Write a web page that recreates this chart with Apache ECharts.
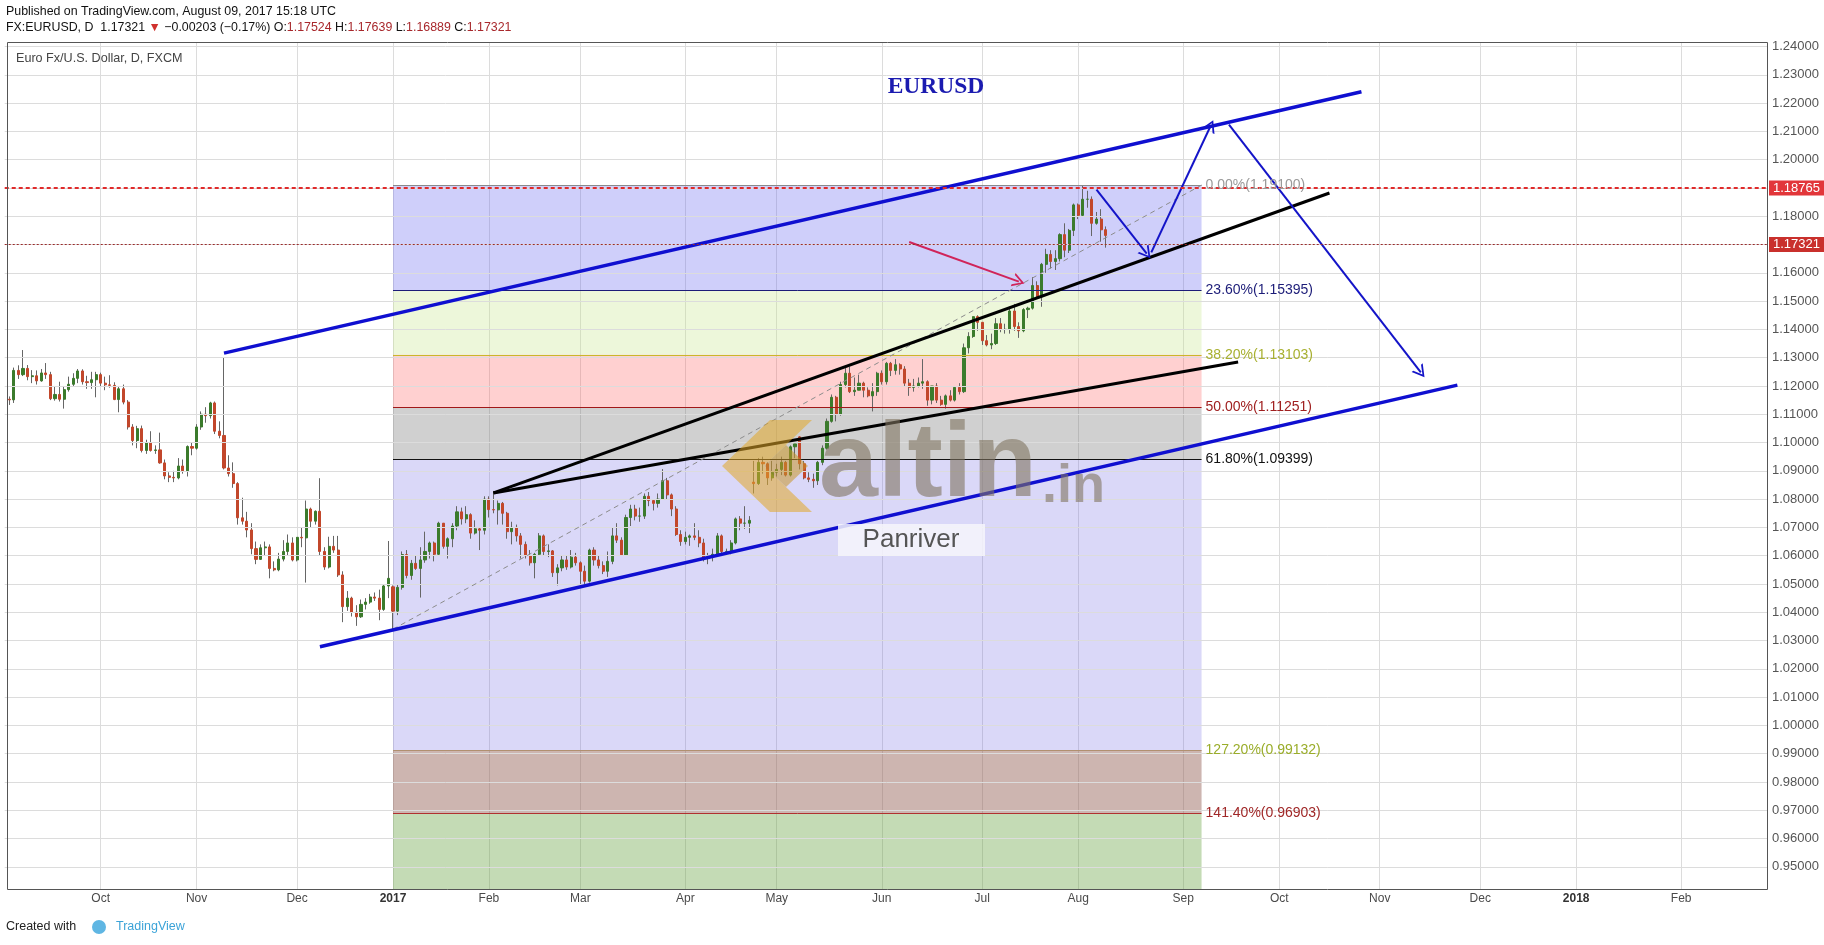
<!DOCTYPE html>
<html><head><meta charset="utf-8">
<script src="https://cdn.jsdelivr.net/npm/echarts/dist/echarts.min.js"></script>
<style>html,body{margin:0;padding:0;background:#fff}#c{width:1824px;height:945px}</style>
</head><body><div id="c"></div>
<script>
// ---------- DATA ----------
const axisStart = '2016-09-02';
const axisEnd = '2018-02-28';
const candleStart = '2016-09-05';
const skipDays = ['2016-12-26','2017-01-02'];   // no FXCM daily bar
// daily candles [open, high, low, close], trading days from candleStart
const ohlc = [
[1.1153,1.1163,1.1133,1.1151],[1.1151,1.1265,1.1140,1.1255],[1.1255,1.1273,1.1225,1.1240],[1.1240,1.1327,1.1235,1.1262],[1.1262,1.1274,1.1220,1.1233],
[1.1233,1.1256,1.1210,1.1236],[1.1236,1.1255,1.1205,1.1218],[1.1218,1.1260,1.1215,1.1246],[1.1246,1.1281,1.1225,1.1240],[1.1240,1.1250,1.1150,1.1155],
[1.1155,1.1200,1.1148,1.1170],[1.1170,1.1215,1.1145,1.1153],[1.1153,1.1200,1.1120,1.1187],[1.1187,1.1233,1.1180,1.1206],[1.1206,1.1245,1.1200,1.1227],
[1.1227,1.1260,1.1210,1.1253],[1.1253,1.1259,1.1205,1.1215],[1.1215,1.1236,1.1190,1.1212],[1.1212,1.1250,1.1190,1.1222],[1.1222,1.1250,1.1160,1.1240],
[1.1240,1.1247,1.1198,1.1210],[1.1210,1.1233,1.1185,1.1204],[1.1204,1.1238,1.1194,1.1202],[1.1202,1.1213,1.1150,1.1152],[1.1152,1.1200,1.1107,1.1190],
[1.1190,1.1205,1.1135,1.1143],[1.1143,1.1150,1.1046,1.1055],[1.1055,1.1065,1.0990,1.1007],[1.1007,1.1059,1.0980,1.1049],[1.1049,1.1060,1.0965,1.0972],
[1.0972,1.1010,1.0960,1.1000],[1.1000,1.1040,1.0968,1.0972],[1.0972,1.0990,1.0960,1.0974],[1.0974,1.1035,1.0925,1.0928],[1.0928,1.0940,1.0870,1.0882],
[1.0882,1.0895,1.0860,1.0877],[1.0877,1.0900,1.0860,1.0875],[1.0875,1.0945,1.0870,1.0917],[1.0917,1.0940,1.0890,1.0900],[1.0900,1.0990,1.0880,1.0986],
[1.0986,1.1000,1.0955,1.0980],[1.0980,1.1065,1.0975,1.1055],[1.1055,1.1110,1.1045,1.1100],[1.1100,1.1125,1.1070,1.1095],[1.1095,1.1144,1.1085,1.1140],
[1.1140,1.1145,1.1030,1.1040],[1.1040,1.1075,1.1015,1.1025],[1.1025,1.1300,1.0905,1.0910],[1.0910,1.0955,1.0880,1.0890],[1.0890,1.0930,1.0840,1.0855],
[1.0855,1.0860,1.0710,1.0734],[1.0734,1.0805,1.0710,1.0722],[1.0722,1.0755,1.0665,1.0691],[1.0691,1.0715,1.0605,1.0625],[1.0625,1.0650,1.0570,1.0587],
[1.0587,1.0640,1.0585,1.0628],[1.0628,1.0650,1.0600,1.0631],[1.0631,1.0640,1.0520,1.0555],[1.0555,1.0580,1.0545,1.0550],[1.0550,1.0610,1.0545,1.0588],
[1.0588,1.0655,1.0580,1.0615],[1.0615,1.0675,1.0600,1.0645],[1.0645,1.0665,1.0580,1.0585],[1.0585,1.0665,1.0580,1.0665],[1.0665,1.0700,1.0630,1.0663],
[1.0663,1.0795,1.0505,1.0765],[1.0765,1.0770,1.0700,1.0722],[1.0722,1.0760,1.0710,1.0757],[1.0757,1.0874,1.0600,1.0615],[1.0615,1.0630,1.0550,1.0560],
[1.0560,1.0667,1.0555,1.0633],[1.0633,1.0670,1.0610,1.0620],[1.0620,1.0670,1.0525,1.0532],[1.0532,1.0545,1.0365,1.0420],[1.0420,1.0475,1.0405,1.0450],
[1.0450,1.0455,1.0385,1.0400],[1.0400,1.0425,1.0352,1.0384],[1.0384,1.0445,1.0380,1.0428],[1.0428,1.0450,1.0410,1.0436],[1.0436,1.0465,1.0430,1.0454],
[1.0454,1.0470,1.0440,1.0450],[1.0450,1.0480,1.0372,1.0410],[1.0410,1.0500,1.0405,1.0493],[1.0493,1.0652,1.0450,1.0520],
[1.0490,1.0495,1.0340,1.0404],[1.0404,1.0497,1.0390,1.0488],[1.0488,1.0615,1.0480,1.0604],[1.0604,1.0620,1.0520,1.0530],
[1.0530,1.0585,1.0515,1.0573],[1.0573,1.0600,1.0550,1.0555],[1.0555,1.0630,1.0452,1.0585],[1.0585,1.0685,1.0575,1.0615],[1.0615,1.0650,1.0590,1.0645],
[1.0645,1.0650,1.0580,1.0605],[1.0605,1.0720,1.0600,1.0715],[1.0715,1.0715,1.0625,1.0633],[1.0633,1.0665,1.0590,1.0660],[1.0660,1.0715,1.0630,1.0705],
[1.0705,1.0775,1.0690,1.0755],[1.0755,1.0770,1.0710,1.0730],[1.0730,1.0775,1.0715,1.0745],[1.0745,1.0750,1.0660,1.0680],[1.0680,1.0725,1.0675,1.0695],
[1.0695,1.0700,1.0620,1.0690],[1.0690,1.0810,1.0675,1.0800],[1.0800,1.0810,1.0735,1.0763],[1.0763,1.0829,1.0750,1.0762],[1.0762,1.0795,1.0710,1.0785],
[1.0785,1.0790,1.0710,1.0750],[1.0750,1.0755,1.0660,1.0685],[1.0685,1.0720,1.0640,1.0700],[1.0700,1.0710,1.0650,1.0670],[1.0670,1.0680,1.0590,1.0640],
[1.0640,1.0650,1.0590,1.0600],[1.0600,1.0620,1.0565,1.0575],[1.0575,1.0610,1.0520,1.0605],[1.0605,1.0680,1.0600,1.0670],[1.0670,1.0675,1.0600,1.0615],
[1.0615,1.0640,1.0595,1.0617],[1.0617,1.0620,1.0525,1.0540],[1.0540,1.0570,1.0495,1.0557],[1.0557,1.0600,1.0545,1.0585],[1.0585,1.0600,1.0550,1.0560],
[1.0560,1.0620,1.0555,1.0595],[1.0595,1.0610,1.0565,1.0575],[1.0575,1.0580,1.0495,1.0545],[1.0545,1.0565,1.0495,1.0510],[1.0510,1.0625,1.0505,1.0620],
[1.0620,1.0630,1.0565,1.0585],[1.0585,1.0600,1.0555,1.0565],[1.0565,1.0580,1.0535,1.0545],[1.0545,1.0615,1.0525,1.0580],[1.0580,1.0700,1.0570,1.0670],
[1.0670,1.0715,1.0645,1.0655],[1.0655,1.0665,1.0600,1.0603],[1.0603,1.0745,1.0600,1.0735],[1.0735,1.0780,1.0705,1.0765],[1.0765,1.0780,1.0725,1.0740],
[1.0740,1.0770,1.0720,1.0740],[1.0740,1.0820,1.0730,1.0810],[1.0810,1.0825,1.0775,1.0795],[1.0795,1.0800,1.0760,1.0785],[1.0785,1.0820,1.0770,1.0800],
[1.0800,1.0906,1.0800,1.0865],[1.0865,1.0875,1.0800,1.0815],[1.0815,1.0820,1.0740,1.0765],[1.0765,1.0775,1.0670,1.0675],[1.0675,1.0690,1.0635,1.0650],
[1.0650,1.0685,1.0640,1.0665],[1.0665,1.0675,1.0635,1.0670],[1.0670,1.0715,1.0655,1.0665],[1.0665,1.0690,1.0630,1.0645],[1.0645,1.0660,1.0580,1.0590],
[1.0590,1.0610,1.0570,1.0600],[1.0600,1.0625,1.0580,1.0605],[1.0605,1.0680,1.0600,1.0670],[1.0670,1.0675,1.0605,1.0615],[1.0615,1.0625,1.0605,1.0615],
[1.0615,1.0655,1.0605,1.0645],[1.0645,1.0735,1.0640,1.0730],[1.0730,1.0740,1.0690,1.0715],[1.0715,1.0775,1.0695,1.0715],[1.0715,1.0740,1.0680,1.0725],
[1.0860,1.0935,1.0820,1.0855],[1.0855,1.0945,1.0850,1.0930],[1.0930,1.0950,1.0890,1.0925],[1.0925,1.0930,1.0850,1.0875],[1.0875,1.0935,1.0865,1.0895],
[1.0895,1.0925,1.0880,1.0905],[1.0905,1.0950,1.0885,1.0930],[1.0930,1.0935,1.0880,1.0885],[1.0885,1.0990,1.0880,1.0985],[1.0985,1.0995,1.0945,1.0995],
[1.1020,1.1023,1.0905,1.0925],[1.0925,1.0935,1.0870,1.0875],[1.0875,1.0895,1.0860,1.0870],[1.0870,1.0890,1.0840,1.0865],[1.0865,1.0935,1.0850,1.0930],
[1.0930,1.0990,1.0920,1.0980],[1.0980,1.1085,1.0975,1.1075],[1.1075,1.1170,1.1070,1.1160],[1.1160,1.1165,1.1075,1.1100],[1.1100,1.1215,1.1095,1.1205],
[1.1205,1.1265,1.1195,1.1245],[1.1245,1.1268,1.1175,1.1180],[1.1180,1.1230,1.1165,1.1185],[1.1185,1.1240,1.1185,1.1210],[1.1210,1.1215,1.1160,1.1185],
[1.1185,1.1195,1.1160,1.1165],[1.1165,1.1210,1.1110,1.1180],[1.1180,1.1250,1.1165,1.1245],[1.1245,1.1255,1.1205,1.1215],[1.1215,1.1285,1.1205,1.1280],
[1.1280,1.1285,1.1235,1.1255],[1.1255,1.1295,1.1240,1.1275],[1.1275,1.1280,1.1240,1.1260],[1.1260,1.1270,1.1200,1.1210],[1.1210,1.1225,1.1165,1.1195],
[1.1195,1.1225,1.1180,1.1200],[1.1200,1.1230,1.1195,1.1210],[1.1210,1.1295,1.1190,1.1215],[1.1215,1.1220,1.1130,1.1150],[1.1150,1.1200,1.1135,1.1200],
[1.1200,1.1210,1.1140,1.1150],[1.1150,1.1165,1.1130,1.1135],[1.1135,1.1170,1.1120,1.1165],[1.1165,1.1185,1.1145,1.1150],[1.1150,1.1200,1.1145,1.1195],
[1.1195,1.1210,1.1170,1.1180],[1.1180,1.1350,1.1175,1.1335],[1.1335,1.1390,1.1315,1.1375],[1.1375,1.1445,1.1370,1.1445],[1.1445,1.1450,1.1395,1.1425],
[1.1425,1.1425,1.1345,1.1360],[1.1360,1.1380,1.1340,1.1345],[1.1345,1.1385,1.1330,1.1350],[1.1350,1.1440,1.1345,1.1420],[1.1420,1.1440,1.1390,1.1400],
[1.1400,1.1420,1.1385,1.1400],[1.1400,1.1480,1.1385,1.1465],[1.1465,1.1490,1.1395,1.1410],[1.1410,1.1425,1.1370,1.1395],[1.1395,1.1475,1.1390,1.1470],
[1.1470,1.1480,1.1440,1.1475],[1.1475,1.1585,1.1470,1.1555],[1.1555,1.1570,1.1510,1.1515],[1.1515,1.1635,1.1480,1.1630],[1.1630,1.1685,1.1600,1.1665],
[1.1665,1.1680,1.1615,1.1640],[1.1640,1.1680,1.1610,1.1650],[1.1650,1.1740,1.1640,1.1735],[1.1735,1.1775,1.1655,1.1680],[1.1680,1.1755,1.1670,1.1750],
[1.1750,1.1845,1.1730,1.1840],[1.1840,1.1845,1.1790,1.1803],[1.1803,1.1910,1.1800,1.1860],[1.1860,1.1890,1.1830,1.1860],[1.1860,1.1870,1.1730,1.1775],
[1.1775,1.1815,1.1770,1.1790],[1.1790,1.1825,1.1710,1.1752],[1.17524,1.17639,1.16889,1.17321]
];
const priceTicks = [0.95,0.96,0.97,0.98,0.99,1.00,1.01,1.02,1.03,1.04,1.05,1.06,1.07,1.08,1.09,1.10,1.11,1.12,1.13,1.14,1.15,1.16,1.17,1.18,1.19,1.20,1.21,1.22,1.23,1.24];
const monthNames = ['Jan','Feb','Mar','Apr','May','Jun','Jul','Aug','Sep','Oct','Nov','Dec'];
// Fibonacci retracement
const fibStart = '2017-01-03', fibEnd = '2017-09-07';
const fibAnchorLow = 1.03402;
const fibLevels = ['0.00%','23.60%','38.20%','50.00%','61.80%','127.20%','141.40%'];
const fibPrices = [1.19100,1.15395,1.13103,1.11251,1.09399,0.99132,0.96903];
const fibBottom = 0.93700;
// horizontal lines
const resistance = 1.18765;
const lastPrice = 1.17321;
// drawings: [[date, price],[date, price]]
const blueChannel = [[['2016-11-09',1.1316],['2017-10-26',1.2240]], [['2016-12-08',1.0278],['2017-11-24',1.1203]]];
const blackLines = [[['2017-02-02',1.0822],['2017-10-17',1.1882]], [['2017-02-02',1.0822],['2017-09-19',1.1285]]];
const blueArrows = [[['2017-08-07',1.1894],['2017-08-22',1.1668]], [['2017-08-23',1.1672],['2017-09-11',1.2120]], [['2017-09-15',1.2124],['2017-11-14',1.1248]]];
const redArrow = [[['2017-06-09',1.1709],['2017-07-13',1.1569]]];

// ---------- BUILD ----------
function ymd(d){return d.toISOString().slice(0,10);}
function tradingDays(from, count, until){
  const out=[]; const d=new Date(from+'T00:00:00Z');
  while(count!=null ? out.length<count : ymd(d)<=until){
    const w=d.getUTCDay(); if(w!==0&&w!==6&&skipDays.indexOf(ymd(d))<0) out.push(ymd(d));
    d.setUTCDate(d.getUTCDate()+1);
  }
  return out;
}
const cats = tradingDays(axisStart, null, axisEnd);
const candleDates = tradingDays(candleStart, ohlc.length, null);
const byDate = {}; candleDates.forEach((d,i)=>{byDate[d]=ohlc[i];});
const wickData = cats.map(d=>byDate[d]?[byDate[d][0],byDate[d][3],byDate[d][2],byDate[d][1]]:'-');
const bodyData = cats.map(d=>{const r=byDate[d]; if(!r) return '-'; return [r[0],r[3],Math.min(r[0],r[3]),Math.max(r[0],r[3])];});
const idx = d => cats.indexOf(d);
const monthStart = new Set();
cats.forEach((d,i)=>{ if(i>0 && d.slice(5,7)!==cats[i-1].slice(5,7)) monthStart.add(i); });
const seg = (pts) => [{coord:[idx(pts[0][0]),pts[0][1]]}, {coord:[idx(pts[1][0]),pts[1][1]]}];

const Y_MIN = 0.94183, Y_MAX = 1.24159;
const arrowPath = 'path://M10,0 L20,16 L17,16 L10,4.5 L3,16 L0,16 Z';
const FONT = 'Liberation Sans, Arial, sans-serif';

const fibZoneColors = ['rgba(110,110,240,0.33)','rgba(200,230,140,0.32)','rgba(255,100,100,0.3)','rgba(120,120,120,0.35)','rgba(120,110,230,0.27)','rgba(145,90,80,0.45)','rgba(100,160,60,0.38)'];
const fibLineColors = ['#8a8a8a','#1c1c78','#c9b82a','#a01818','#111111','#b09070','#b03030'];
const fibLabelColors = ['#9a9a9a','#1c1c78','#a8b030','#a02020','#111111','#9aad2a','#a02828'];
const fibLower = fibPrices.slice(1).concat([fibBottom]);
const fibAreas = fibPrices.map((p,i)=>[{coord:[idx(fibStart),p], itemStyle:{color:fibZoneColors[i]}},{coord:[idx(fibEnd),fibLower[i]]}]);
const fibLines = fibPrices.map((p,i)=>[{coord:[idx(fibStart),p], lineStyle:{color:fibLineColors[i],width:1,type:'solid'},
   label:{show:true,position:'end',distance:4,color:fibLabelColors[i],fontSize:14,fontFamily:FONT,formatter:fibLevels[i]+'('+p.toFixed(5)+')'}},{coord:[idx(fibEnd),p]}]);
fibLines.push([{coord:[idx(fibStart),fibAnchorLow], lineStyle:{color:'#8c8c8c',width:1,type:[5,4]}, label:{show:false}},{coord:[idx(fibEnd),fibPrices[0]]}]);

const chart = echarts.init(document.getElementById('c'), null, {renderer:'canvas'});
const option = {
  backgroundColor:'#ffffff',
  animation:false,
  grid:{left:4.73, right:56, top:42, bottom:55, containLabel:false},
  xAxis:{type:'category', data:cats, boundaryGap:false,
    axisLine:{show:false}, axisTick:{show:false},
    axisLabel:{interval:(i)=>monthStart.has(i), margin:3, color:'#4a4a4a', fontSize:12, fontFamily:FONT,
      formatter:(v)=>{const m=+v.slice(5,7)-1; return m===0?'{b|'+v.slice(0,4)+'}':monthNames[m];},
      rich:{b:{fontWeight:'bold',color:'#333',fontSize:12,fontFamily:FONT}}},
    splitLine:{show:true, interval:(i)=>monthStart.has(i), lineStyle:{color:'#dcdcdc',width:1}}
  },
  yAxis:{type:'value', min:Y_MIN, max:Y_MAX, show:false, scale:true},
  series:[
    {name:'grid', type:'line', data:[], z:1, silent:true,
      markLine:{silent:true, symbol:['none','none'], animation:false,
        lineStyle:{color:'#dcdcdc',width:1,type:'solid'},
        label:{show:true,position:'end',distance:4,color:'#555',fontSize:13,fontFamily:FONT,formatter:p=>p.value.toFixed(5)},
        data:priceTicks.map(v=>({yAxis:v}))}},
    {name:'fib', type:'line', data:[], z:2, silent:true,
      markArea:{silent:true, data:fibAreas},
      markLine:{silent:true, symbol:['none','none'], data:fibLines}},
    {name:'wick', type:'candlestick', data:wickData, z:3, barWidth:1, silent:true,
      itemStyle:{color:'#666',color0:'#666',borderColor:'#666',borderColor0:'#666',borderWidth:1}},
    {name:'body', type:'candlestick', data:bodyData, z:4, barWidth:2.6, silent:true,
      itemStyle:{color:'#3b7b2c',color0:'#c2472b',borderColor:'#3b7b2c',borderColor0:'#c2472b',borderWidth:1}},
    {name:'channel', type:'line', data:[], z:5, silent:true,
      markLine:{silent:true, symbol:['none','none'], label:{show:false}, lineStyle:{color:'#0f0fd0',width:3.5,type:'solid'},
        data:blueChannel.map(seg)}},
    {name:'black', type:'line', data:[], z:5, silent:true,
      markLine:{silent:true, symbol:['none','none'], label:{show:false}, lineStyle:{color:'#000000',width:3,type:'solid'},
        data:blackLines.map(seg)}},
    {name:'arrows', type:'line', data:[], z:6, silent:true,
      markLine:{silent:true, symbol:['none',arrowPath], symbolSize:[14,12], label:{show:false}, itemStyle:{color:'#1414c8'}, lineStyle:{color:'#1414c8',width:2,type:'solid'},
        data:blueArrows.map(seg)}},
    {name:'redArrow', type:'line', data:[], z:6, silent:true,
      markLine:{silent:true, symbol:['none',arrowPath], symbolSize:[14,12], label:{show:false}, itemStyle:{color:'#d0245a'}, lineStyle:{color:'#d0245a',width:2,type:'solid'},
        data:redArrow.map(seg)}},
    {name:'levels', type:'line', data:[], z:7, silent:true,
      markLine:{silent:true, symbol:['none','none'],
        data:[
          {yAxis:resistance, lineStyle:{color:'#e02b2b',width:2,type:[4,3]},
            label:{show:true,position:'end',distance:1,backgroundColor:'#e2363a',color:'#fff',padding:[1,5,1,4],fontSize:13,fontFamily:FONT,formatter:resistance.toFixed(5)}},
          {yAxis:lastPrice, lineStyle:{color:'#9b2a2a',width:1,type:[2,2]},
            label:{show:true,position:'end',distance:1,backgroundColor:'#c9302c',color:'#fff',padding:[1,5,1,4],fontSize:13,fontFamily:FONT,formatter:lastPrice.toFixed(5)}}
        ]}}
  ],
  graphic:[
    {type:'rect', z:50, silent:true, shape:{x:7.5,y:42.5,width:1760,height:847}, style:{fill:'none',stroke:'#555',lineWidth:1}},
    {type:'text', left:6, top:6, z:50, style:{text:'Published on TradingView.com, August 09, 2017 15:18 UTC', fill:'#111', font:'12.4px '+FONT}},
    {type:'text', left:6, top:22, z:50, style:{
      text:'{a|FX:EURUSD, D  1.17321 }{r|▼}{a| −0.00203 (−0.17%) O:}{v|1.17524}{a| H:}{v|1.17639}{a| L:}{v|1.16889}{a| C:}{v|1.17321}',
      rich:{a:{fill:'#111',font:'12.4px '+FONT},r:{fill:'#d0312d',font:'12.4px '+FONT},v:{fill:'#a8282c',font:'12.4px '+FONT}}}},
    {type:'text', left:16, top:52, z:50, style:{text:'Euro Fx/U.S. Dollar, D, FXCM', fill:'#444', font:'12.6px '+FONT}},
    {type:'text', x:936, y:87, z:50, style:{text:'EURUSD', fill:'#1b1bb0', font:'bold 23.5px "Liberation Serif", "Times New Roman", serif', textAlign:'center', textVerticalAlign:'middle'}},
    {type:'polygon', z:40, silent:true, shape:{points:[[722,466],[770,420],[812,420],[764,466],[812,512],[770,512]]}, style:{fill:'rgba(226,168,40,0.55)'}},
    {type:'polygon', z:40, silent:true, shape:{points:[[764,466],[786,445],[808,466],[786,487]]}, style:{fill:'rgba(200,150,40,0.55)'}},
    {type:'text', x:819, y:520, z:40, silent:true, style:{text:'altin', fill:'rgba(128,116,96,0.6)', font:'bold 106px '+FONT, textVerticalAlign:'bottom'}},
    {type:'text', x:1042, y:514, z:40, silent:true, style:{text:'.in', fill:'rgba(128,116,96,0.6)', font:'bold 54px '+FONT, textVerticalAlign:'bottom'}},
    {type:'rect', z:40, silent:true, shape:{x:838,y:524,width:147,height:32}, style:{fill:'rgba(246,246,252,0.85)'}},
    {type:'text', x:911, y:540, z:41, silent:true, style:{text:'Panriver', fill:'#555', font:'26px '+FONT, textAlign:'center', textVerticalAlign:'middle'}},
    {type:'text', left:6, top:920, z:50, style:{text:'Created with', fill:'#222', font:'12.5px '+FONT}},
    {type:'text', left:116, top:920, z:50, style:{text:'TradingView', fill:'#3ba3d8', font:'12.5px '+FONT}},
    {type:'circle', z:50, shape:{cx:99,cy:927,r:7}, style:{fill:'#5fb6e3'}}
  ]
};
chart.setOption(option);
</script></body></html>
